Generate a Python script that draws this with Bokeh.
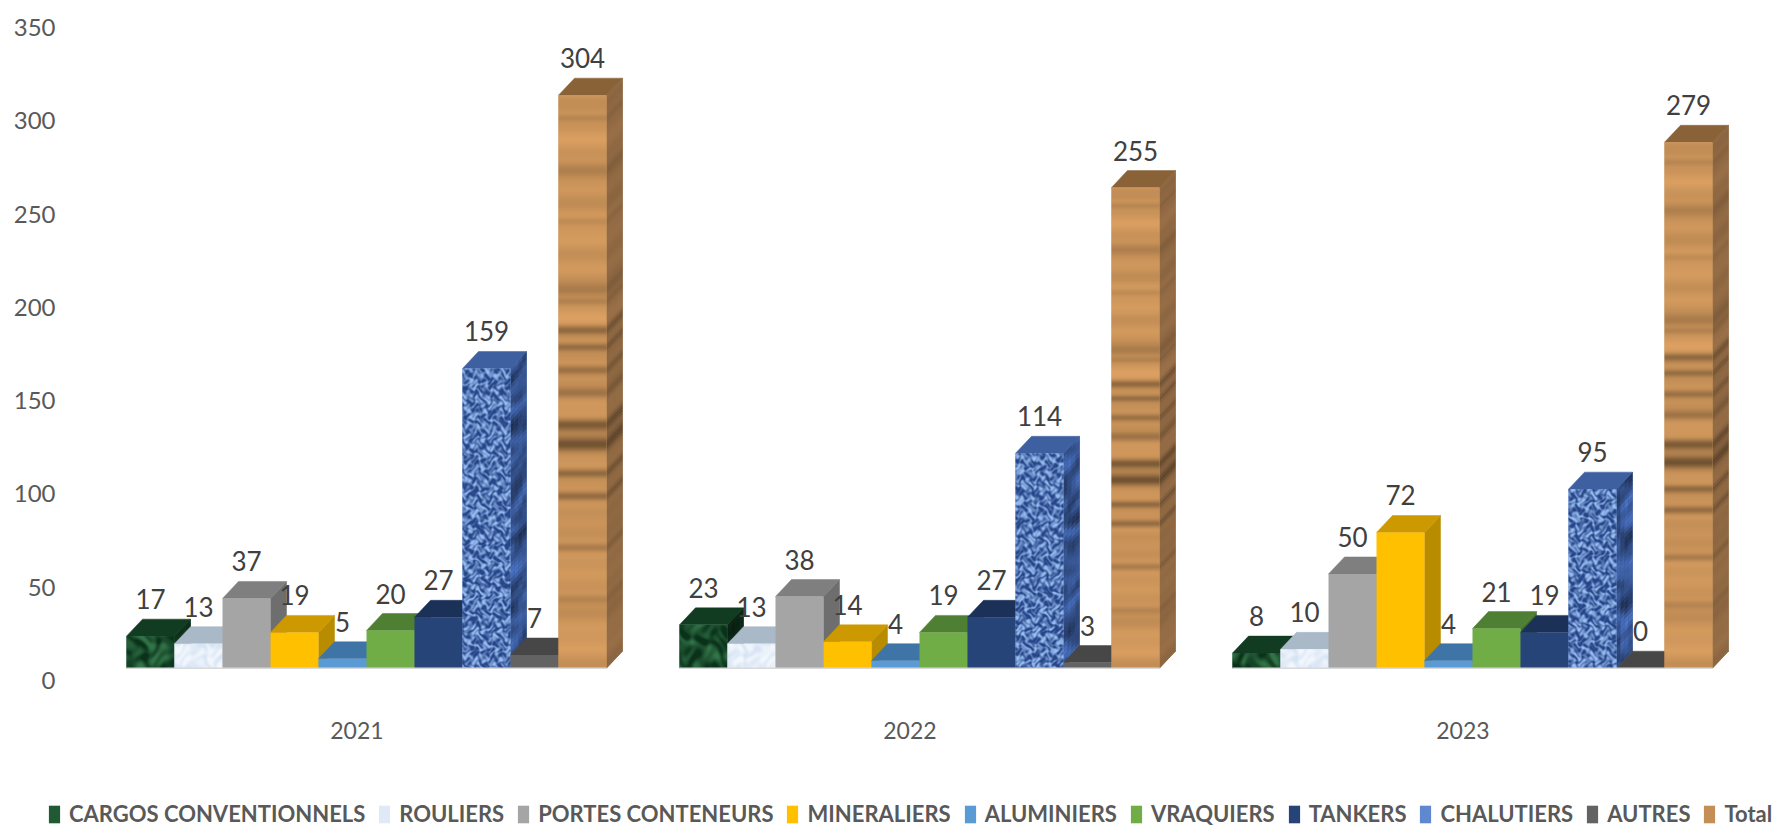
import numpy as np
from bokeh.embed import file_html
from bokeh.models import ColumnDataSource, FixedTicker, Legend, LegendItem, LinearAxis, Range1d
from bokeh.plotting import figure
from bokeh.resources import INLINE
from bokeh.core.properties import value

years = ["2021", "2022", "2023"]
series = ["CARGOS CONVENTIONNELS", "ROULIERS", "PORTES CONTENEURS", "MINERALIERS", "ALUMINIERS",
          "VRAQUIERS", "TANKERS", "CHALUTIERS", "AUTRES", "Total"]
cargos = [17, 23, 8]
rouliers = [13, 13, 10]
portes = [37, 38, 50]
mineraliers = [19, 14, 72]
aluminiers = [5, 4, 4]
vraquiers = [20, 19, 21]
tankers = [27, 27, 19]
chalutiers = [159, 114, 95]
autres = [7, 3, 0]
total = [304, 255, 279]
columns = [cargos, rouliers, portes, mineraliers, aluminiers, vraquiers, tankers, chalutiers, autres, total]

front = ["#1f5a34", "#dfeaf6", "#a5a5a5", "#ffc000", "#5b9bd5", "#70ad47", "#264478", "#5f88d0", "#636363", "#c48f57"]
top_c = ["#123c22", "#a9b9c8", "#7f7f7f", "#cc9a00", "#3f74a6", "#4f7f33", "#1b3158", "#3f60a0", "#474747", "#8a6238"]
side_c = ["#0e2e1a", "#b4c2d0", "#6e6e6e", "#b98c00", "#3a6a98", "#47722e", "#182c50", "#35528c", "#404040", "#86623f"]

# layout in page pixels
PW, PH = 1776, 829
L, R, T, B = 0, 1776, 0, 829
BASE, SCALE = 667.7, 1.885
X0, BW, PERIOD = 126.0, 48.0, 553.0
DX, DY = 16 / BW, 17 / SCALE
TICK0, TICK_SCALE = 680.0, 1.866

p = figure(width=PW, height=PH, output_backend="svg", toolbar_location=None,
           x_range=Range1d((L - X0) / BW, (R - X0) / BW),
           y_range=Range1d(-(B - BASE) / SCALE, (BASE - T) / SCALE),
           y_axis_location=None, x_axis_location=None,
           min_border_left=0, min_border_right=0, min_border_top=0, min_border_bottom=0,
           outline_line_color=None, background_fill_color="white", border_fill_color="white")
p.grid.visible = False

FONT = "Lato"
TXT = "#595959"
p.extra_y_ranges = {"labels": Range1d(-(B - TICK0) / TICK_SCALE, (TICK0 - T) / TICK_SCALE)}
yax = LinearAxis(y_range_name="labels", ticker=FixedTicker(ticks=[0, 50, 100, 150, 200, 250, 300, 350]),
                 axis_line_color=None, major_tick_line_color=None, minor_tick_line_color=None,
                 major_label_text_font=FONT, major_label_text_font_size="24px",
                 major_label_text_color=TXT, major_label_standoff=0,
                 fixed_location=(61 - X0) / BW)
p.add_layout(yax, "left")

group_pos = [i * PERIOD / BW for i in range(3)]
centers = [g + 4.8 for g in group_pos]
xa = LinearAxis(ticker=FixedTicker(ticks=centers), major_label_overrides={c: y for c, y in zip(centers, years)},
                axis_line_color=None, major_tick_line_color=None, minor_tick_line_color=None,
                major_label_text_font=FONT, major_label_text_font_size="23px",
                major_label_text_color=TXT, major_label_standoff=0,
                fixed_location=-(715 - BASE) / SCALE)
p.add_layout(xa, "below")

# ---- surface textures (appearance only, deterministic) ----
WOOD_BANDS = [(.04, .006, .10), (.13, .012, .18), (.22, .008, .12), (.34, .012, .18), (.36, .006, .12),
              (.41, .008, .30), (.44, .007, .28), (.48, .008, .3), (.52, .010, .28), (.575, .010, .42),
              (.61, .012, .50), (.66, .008, .35), (.70, .008, .35), (.79, .008, .25), (.88, .008, .15)]


def hex_rgb(h):
    return np.array([int(h[i:i + 2], 16) for i in (1, 3, 5)], dtype=float)


def wood_profile(n):
    f = (np.arange(n) + .5) / n
    d = 0.05 * np.sin(f * 61.0) * np.sin(f * 17.3 + 1) + 0.03 * np.sin(f * 141.0)
    for c, w, a in WOOD_BANDS:
        d += a * np.exp(-((f - c) / w) ** 2)
    return d  # from top to bottom


def mottled(h, w, phase, zoom=1.0):
    yy, xx = np.mgrid[0:h, 0:w].astype(float)
    xx, yy = xx / zoom, yy / zoom
    wx = xx + 2.5 * np.sin(yy / 4.3 + phase) + 1.4 * np.sin(yy / 1.7)
    wy = yy + 2.5 * np.sin(xx / 3.1 + phase * 1.7) + 1.4 * np.sin(xx / 1.3)
    a = (np.sin(wx / 1.3 + phase) * np.sin(wy / 1.6 + 1) * 1.6 + 0.7 * np.sin((wx + wy) / 2.3 + phase * 2)
         + 0.6 * np.sin((wx - 1.7 * wy) / 3.7) + 0.4 * np.sin(wy / 0.9))
    return a / 2.2


def tex_rgba(j, k, h, w):
    """h, w in pixels; row 0 is the bottom of the image."""
    base = hex_rgb(front[j])
    img = np.zeros((h, w, 4), dtype=np.uint8)
    if j == 9:
        d = wood_profile(h)[::-1]
        rgb = np.repeat(base[None, None, :] * (1.05 - d[:, None, None] * 0.95), w, axis=1)
    elif j == 7:
        t = np.clip(.42 + .75 * mottled(h, w, k * 1.3), 0, 1)[..., None]
        rgb = np.array([38, 68, 135.]) * (1 - t) + np.array([150, 188, 240.]) * t
    elif j == 0:
        t = np.clip(.4 + .6 * mottled(h, w, k + 3, 2.5), 0, 1)[..., None]
        rgb = np.array([10, 50, 26.]) * (1 - t) + np.array([50, 115, 72.]) * t
    else:
        t = np.clip(.5 + .6 * mottled(h, w, k + 1, 2.0), 0, 1)[..., None]
        rgb = np.array([214, 228, 244.]) * (1 - t) + np.array([242, 247, 253.]) * t
    img[..., :3] = np.clip(rgb, 0, 255).astype(np.uint8)
    img[..., 3] = 255
    return img.view(dtype=np.uint32).reshape(h, w)


def side_cells(x, v, j, k):
    """Small parallelograms that carry the texture on the right-hand face."""
    xs, ys, cols = [], [], []
    base = hex_rgb(side_c[j])
    rows = max(1, int(v * SCALE / (3 if j == 9 else 4)))
    ncol = 1 if j == 9 else 4
    prof = wood_profile(rows)[::-1] if j == 9 else None
    mot = mottled(rows, ncol, k * 1.3 + 5) if j != 9 else None
    for r in range(rows):
        y0, y1 = v * r / rows, v * (r + 1) / rows
        for c in range(ncol):
            a0, a1 = DX * c / ncol, DX * (c + 1) / ncol
            b0, b1 = DY * c / ncol, DY * (c + 1) / ncol
            xs.append([x + 1 + a0, x + 1 + a1, x + 1 + a1, x + 1 + a0])
            ys.append([y0 + b0, y0 + b1, y1 + b1, y1 + b0])
            col = base * (1.1 - prof[r] * .8) if j == 9 else base * (1.0 + .35 * mot[r, c])
            cols.append("#%02x%02x%02x" % tuple(np.clip(col, 0, 255).astype(int)))
    return xs, ys, cols


items = []
lab_x, lab_y, lab_t = [], [], []
textured = {0, 1, 7, 9}
for j, (name, vals) in enumerate(zip(series, columns)):
    x0 = [g + j for g in group_pos]
    x1 = [a + 1 for a in x0]
    vals = list(vals)
    p.patches([[a, a + DX, a + DX, a] for a in x1],
              [[0, DY, v + DY, v] for v in vals], fill_color=side_c[j], line_color=side_c[j], line_width=.5)
    if j in (0, 7, 9):
        for k, (a, v) in enumerate(zip(x0, vals)):
            sx, sy, sc = side_cells(a, v, j, k)
            p.patches(sx, sy, fill_color=sc, line_color=None)
    p.patches([[a, a + DX, b + DX, b] for a, b in zip(x0, x1)],
              [[v, v + DY, v + DY, v] for v in vals], fill_color=top_c[j], line_color=top_c[j], line_width=.5)
    src = ColumnDataSource(dict(left=x0, right=x1, top=vals, bottom=[0] * 3))
    r = p.quad(left="left", right="right", top="top", bottom="bottom", source=src,
               fill_color=front[j], line_color=None)
    items.append(LegendItem(label=value(name), renderers=[r]))
    if j in textured:
        for k, (a, v) in enumerate(zip(x0, vals)):
            h = max(1, int(round(v * SCALE)))
            p.image_rgba(image=[tex_rgba(j, k, h, 48)], x=[a], y=[0], dw=[1], dh=[v])
    for a, v in zip(x0, vals):
        lab_x.append(a + .5)
        lab_y.append(v)
        lab_t.append(str(v))

p.segment(x0=group_pos, x1=[g + 10 for g in group_pos], y0=[0] * 3, y1=[0] * 3, line_color="#d9d9d9", line_width=1.5)

p.text(x=lab_x, y=lab_y, text=lab_t, text_align="center", text_baseline="middle", y_offset=-37,
       text_font=value(FONT), text_font_size="26px", text_color="#404040")

legend = Legend(items=items, orientation="horizontal", location=(47, 2), border_line_color=None,
                background_fill_alpha=0, glyph_width=14, glyph_height=22, label_standoff=8, spacing=12,
                label_text_font=FONT, label_text_font_style="bold", label_text_font_size="22px",
                label_text_color=TXT, margin=0, padding=0, label_height=26)
p.add_layout(legend, "center")

open("out.html", "w").write(file_html(p, INLINE))
